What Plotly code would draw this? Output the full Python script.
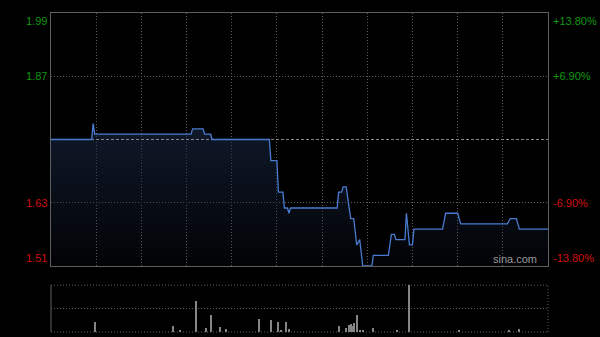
import plotly.graph_objects as go

# ---- data ----
prev_close = 1.75
minutes = [0, 27, 28, 29, 93, 94, 101, 102, 106, 107, 145, 146, 150, 151, 154, 155, 157, 158, 159,
           190, 191, 193, 194, 196, 199, 201, 203, 205, 207, 213, 214, 224, 226, 228, 229, 235,
           236, 238, 240, 241, 260, 262, 270, 272, 303, 305, 309, 311, 330]
prices = [1.75, 1.75, 1.78, 1.76, 1.76, 1.77, 1.77, 1.76, 1.76, 1.75, 1.75, 1.71, 1.71, 1.65, 1.65, 1.62, 1.62, 1.61, 1.62,
          1.62, 1.65, 1.65, 1.66, 1.66, 1.60, 1.60, 1.55, 1.56, 1.51, 1.51, 1.53, 1.53, 1.57, 1.57, 1.56, 1.56,
          1.61, 1.55, 1.55, 1.58, 1.58, 1.61, 1.61, 1.59, 1.59, 1.60, 1.60, 1.58, 1.58]

vol_minutes = [29, 81, 86, 96, 103, 106, 112, 116, 138, 146, 151, 153, 156, 158, 191, 196, 198, 199,
               200, 201, 203, 205, 207, 214, 230, 238, 271, 304, 311]
volumes = [97, 57, 20, 310, 40, 170, 47, 30, 133, 123, 97, 20, 97, 30, 57, 40, 73, 80,
           63, 87, 173, 20, 20, 40, 20, 470, 17, 20, 30]

left_labels = ["1.99", "1.87", "1.63", "1.51"]
right_labels = ["+13.80%", "+6.90%", "-6.90%", "-13.80%"]
label_levels = [1.99, 1.87, 1.63, 1.51]
label_colors = ["#0f9a0f", "#0f9a0f", "#d01010", "#d01010"]

fig = go.Figure()

# area fill under the price line
fig.add_trace(go.Scatter(
    x=minutes, y=prices, mode="none",
    fill="tozeroy",
    fillgradient=dict(type="vertical",
                      colorscale=[[0, "rgba(25,40,68,0.08)"], [1, "rgba(25,40,68,0.62)"]],
                      start=1.51, stop=1.78),
    hoverinfo="skip", showlegend=False, xaxis="x", yaxis="y"))

# previous close reference line
fig.add_trace(go.Scatter(
    x=[0, 330], y=[prev_close, prev_close], mode="lines",
    line=dict(color="#8a8a8a", width=1, dash="3px,2px"),
    hoverinfo="skip", showlegend=False, xaxis="x", yaxis="y"))

# price line
fig.add_trace(go.Scatter(
    x=minutes, y=prices, mode="lines",
    line=dict(color="#4a7bd0", width=1.3),
    hoverinfo="skip", showlegend=False, xaxis="x", yaxis="y"))

fig.add_trace(go.Bar(
    x=vol_minutes, y=volumes, width=0.7,
    marker=dict(color="#858585", line=dict(width=0)),
    showlegend=False, xaxis="x2", yaxis="y2"))

grid = "#5c5c5c"
fig.update_layout(
    width=600, height=337,
    margin=dict(l=51, r=52, t=13, b=5),
    paper_bgcolor="black", plot_bgcolor="black",
    font=dict(family="Liberation Sans, Arial", size=11),
    bargap=0,
    xaxis=dict(domain=[0, 1], range=[0, 330], tickvals=list(range(30, 330, 30)),
               showticklabels=False, ticks="", showgrid=True, gridcolor=grid, griddash="1px,2px",
               gridwidth=1, zeroline=False, showline=True, mirror=True, linecolor="#5e5e5e",
               linewidth=1, anchor="y"),
    yaxis=dict(domain=[0.207, 1], range=[1.51, 1.99], tickvals=[1.63, 1.87],
               showticklabels=False, ticks="", showgrid=True, gridcolor=grid, griddash="1px,2px",
               zeroline=False, showline=True, mirror=True, linecolor="#5e5e5e", linewidth=1,
               anchor="x"),
    xaxis2=dict(domain=[0, 1], range=[0, 330], showticklabels=False, ticks="",
                showgrid=False, zeroline=False, showline=False, anchor="y2", matches="x"),
    yaxis2=dict(domain=[0, 0.147], range=[0, 470], showticklabels=False, ticks="",
                showgrid=False, zeroline=False, showline=False, anchor="x2"),
)

# volume panel frame and grid
fig.add_shape(type="line", xref="x2 domain", yref="y2 domain", x0=0, x1=0, y0=0, y1=1,
              line=dict(color="#5e5e5e", width=1))
for yy in [0, 0.5, 1]:
    fig.add_shape(type="line", xref="x2 domain", yref="y2 domain", x0=0, x1=1, y0=yy, y1=yy,
                  line=dict(color="#606060", width=1, dash="1px,2px"), layer="below")
fig.add_shape(type="line", xref="x2 domain", yref="y2 domain", x0=1, x1=1, y0=0, y1=1,
              line=dict(color="#606060", width=1, dash="1px,2px"))

# price / percent labels
for lvl, lt, rt, col in zip(label_levels, left_labels, right_labels, label_colors):
    anchor = "top" if lvl == 1.99 else ("bottom" if lvl == 1.51 else "middle")
    fig.add_annotation(xref="x domain", yref="y", x=0, y=lvl, text=lt, showarrow=False,
                       xanchor="right", yanchor=anchor, xshift=-2,
                       font=dict(color=col, size=11, family="Liberation Sans, Arial"))
    fig.add_annotation(xref="x domain", yref="y", x=1, y=lvl, text=rt, showarrow=False,
                       xanchor="left", yanchor=anchor, xshift=3,
                       font=dict(color=col, size=11, family="Liberation Sans, Arial"))

fig.add_annotation(xref="x domain", yref="y domain", x=0.982, y=0, text="sina.com", showarrow=False,
                   xanchor="right", yanchor="bottom", yshift=-1,
                   font=dict(color="#9a9a9a", size=11, family="Liberation Sans, Arial"))

fig.write_html("out.html")
